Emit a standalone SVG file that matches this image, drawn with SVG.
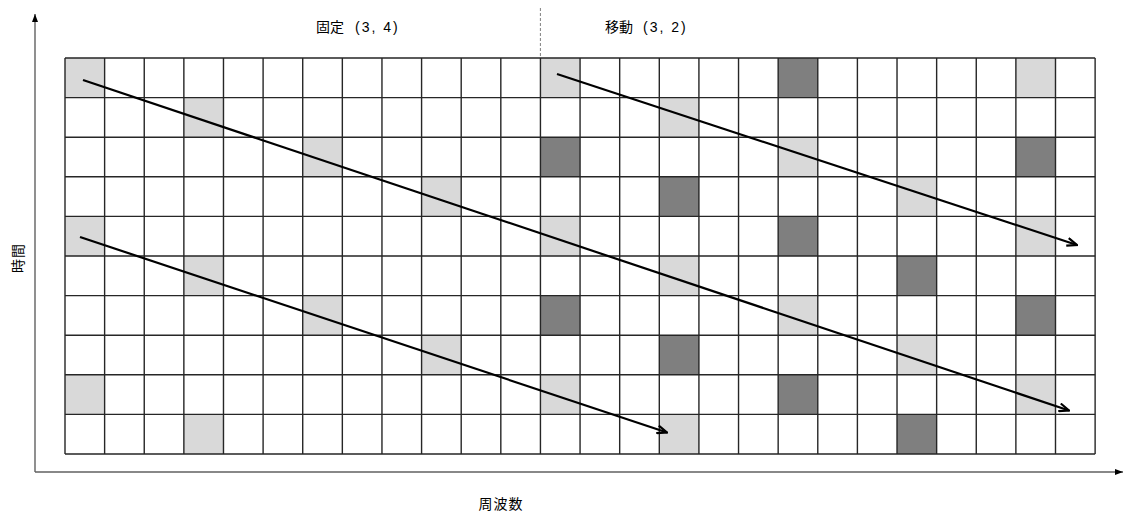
<svg xmlns="http://www.w3.org/2000/svg" width="1124" height="513" viewBox="0 0 1124 513">
<style>
.lt{fill:#d9d9d9}
.dk{fill:#7f7f7f}
.gl{stroke:#262626;stroke-width:1.4;fill:none}
.ax{stroke:#606060;stroke-width:1.4;fill:none}
.ar{stroke:#000;stroke-width:2.2;fill:none}
.t{font-family:"Noto Sans CJK JP","Liberation Sans",sans-serif;fill:#000}
.n{font-family:"Liberation Sans","Noto Sans CJK JP",sans-serif;font-size:14px;letter-spacing:2px}
</style>
<defs>
<marker id="open" viewBox="0 0 12 10" refX="11" refY="5" markerWidth="12" markerHeight="10" markerUnits="userSpaceOnUse" orient="auto">
<path d="M1,1 L11,5 L1,9" stroke="#000" stroke-width="2.2" fill="none"/>
</marker>
<marker id="tri" viewBox="0 0 8 6" refX="8" refY="3" markerWidth="8" markerHeight="6" markerUnits="userSpaceOnUse" orient="auto">
<path d="M0,0 L8,3 L0,6 Z" fill="#000"/>
</marker>
</defs>
<rect width="1124" height="513" fill="#fff"/>
<g id="axes">
<line class="ax" x1="35" y1="472" x2="35" y2="14" marker-end="url(#tri)"/>
<line class="ax" x1="35" y1="472" x2="1123" y2="472" marker-end="url(#tri)"/>
<line x1="540.4" y1="8" x2="540.4" y2="58" stroke="#808080" stroke-width="1" stroke-dasharray="3,2"/>
</g>
<g id="cells">
<rect class="lt" x="65" y="58" width="39.62" height="39.6"/>
<rect class="lt" x="540.44" y="58" width="39.62" height="39.6"/>
<rect class="dk" x="778.16" y="58" width="39.62" height="39.6"/>
<rect class="lt" x="1015.88" y="58" width="39.62" height="39.6"/>
<rect class="lt" x="183.86" y="97.6" width="39.62" height="39.6"/>
<rect class="lt" x="659.3" y="97.6" width="39.62" height="39.6"/>
<rect class="lt" x="302.72" y="137.2" width="39.62" height="39.6"/>
<rect class="dk" x="540.44" y="137.2" width="39.62" height="39.6"/>
<rect class="lt" x="778.16" y="137.2" width="39.62" height="39.6"/>
<rect class="dk" x="1015.88" y="137.2" width="39.62" height="39.6"/>
<rect class="lt" x="421.58" y="176.8" width="39.62" height="39.6"/>
<rect class="dk" x="659.3" y="176.8" width="39.62" height="39.6"/>
<rect class="lt" x="897.02" y="176.8" width="39.62" height="39.6"/>
<rect class="lt" x="65" y="216.4" width="39.62" height="39.6"/>
<rect class="lt" x="540.44" y="216.4" width="39.62" height="39.6"/>
<rect class="dk" x="778.16" y="216.4" width="39.62" height="39.6"/>
<rect class="lt" x="1015.88" y="216.4" width="39.62" height="39.6"/>
<rect class="lt" x="183.86" y="256" width="39.62" height="39.6"/>
<rect class="lt" x="659.3" y="256" width="39.62" height="39.6"/>
<rect class="dk" x="897.02" y="256" width="39.62" height="39.6"/>
<rect class="lt" x="302.72" y="295.6" width="39.62" height="39.6"/>
<rect class="dk" x="540.44" y="295.6" width="39.62" height="39.6"/>
<rect class="lt" x="778.16" y="295.6" width="39.62" height="39.6"/>
<rect class="dk" x="1015.88" y="295.6" width="39.62" height="39.6"/>
<rect class="lt" x="421.58" y="335.2" width="39.62" height="39.6"/>
<rect class="dk" x="659.3" y="335.2" width="39.62" height="39.6"/>
<rect class="lt" x="897.02" y="335.2" width="39.62" height="39.6"/>
<rect class="lt" x="65" y="374.8" width="39.62" height="39.6"/>
<rect class="lt" x="540.44" y="374.8" width="39.62" height="39.6"/>
<rect class="dk" x="778.16" y="374.8" width="39.62" height="39.6"/>
<rect class="lt" x="1015.88" y="374.8" width="39.62" height="39.6"/>
<rect class="lt" x="183.86" y="414.4" width="39.62" height="39.6"/>
<rect class="lt" x="659.3" y="414.4" width="39.62" height="39.6"/>
<rect class="dk" x="897.02" y="414.4" width="39.62" height="39.6"/>
</g>
<g id="grid">
<path class="gl" d="M65,58V454 M104.62,58V454 M144.24,58V454 M183.86,58V454 M223.48,58V454 M263.1,58V454 M302.72,58V454 M342.34,58V454 M381.96,58V454 M421.58,58V454 M461.2,58V454 M500.82,58V454 M540.44,58V454 M580.06,58V454 M619.68,58V454 M659.3,58V454 M698.92,58V454 M738.54,58V454 M778.16,58V454 M817.78,58V454 M857.4,58V454 M897.02,58V454 M936.64,58V454 M976.26,58V454 M1015.88,58V454 M1055.5,58V454 M1095.12,58V454"/>
<path class="gl" d="M65,58H1095.12 M65,97.6H1095.12 M65,137.2H1095.12 M65,176.8H1095.12 M65,216.4H1095.12 M65,256H1095.12 M65,295.6H1095.12 M65,335.2H1095.12 M65,374.8H1095.12 M65,414.4H1095.12 M65,454H1095.12"/>
</g>
<g id="connectors">
<line class="ar" x1="83" y1="80" x2="1069" y2="410.5" marker-end="url(#open)"/>
<line class="ar" x1="557" y1="74" x2="1077" y2="245" marker-end="url(#open)"/>
<line class="ar" x1="80" y1="237" x2="667" y2="432.5" marker-end="url(#open)"/>
</g>
<g id="labels">
<text class="t" x="316" y="32" font-size="14">固定<tspan class="n" x="355">(3, 4)</tspan></text>
<text class="t" x="605" y="32" font-size="14">移動<tspan class="n" x="643">(3, 2)</tspan></text>
<text class="t" x="501" y="509" font-size="14" letter-spacing="1" text-anchor="middle">周波数</text>
<text class="t" font-size="14" letter-spacing="1" text-anchor="middle" transform="translate(22.5,258) rotate(-90)">時間</text>
</g>
</svg>
